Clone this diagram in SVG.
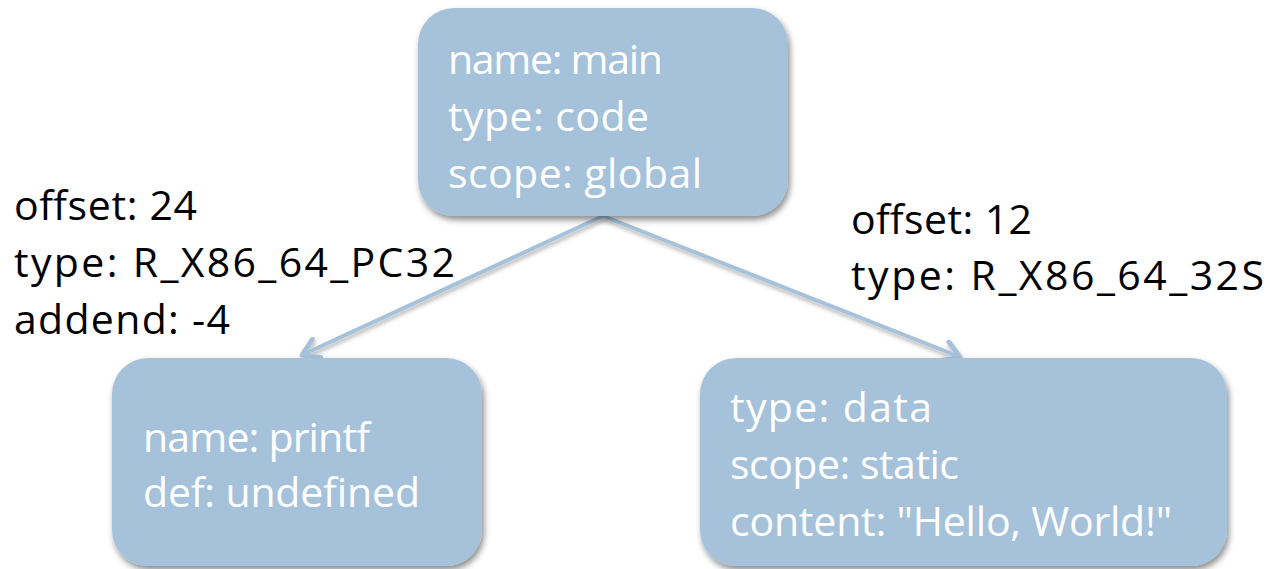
<svg xmlns="http://www.w3.org/2000/svg" width="1270" height="569" viewBox="0 0 1270 569">
<defs>
<filter id="sh" x="-10%" y="-10%" width="120%" height="130%">
<feDropShadow dx="2" dy="4" stdDeviation="3" flood-color="#000" flood-opacity="0.45"/>
</filter>
<filter id="lsh" x="-10%" y="-10%" width="120%" height="130%">
<feDropShadow dx="1" dy="3" stdDeviation="2" flood-color="#000" flood-opacity="0.3"/>
</filter>
<marker id="arr" viewBox="0 0 12 12" refX="10" refY="6" markerWidth="6" markerHeight="6" orient="auto" markerUnits="strokeWidth">
<path d="M2,1 L10,6 L2,11" fill="none" stroke="#A5C2DA" stroke-width="2.4" stroke-linecap="round" stroke-linejoin="round"/>
</marker>
<style>
.box{fill:#A5C2DA;filter:url(#sh)}
.t{font-family:"Open Sans","Lato","Liberation Sans",sans-serif;font-size:41px}
.w{fill:#FFFFFF}
.k{fill:#000000}
.c{stroke:#A5C2DA;stroke-width:4;fill:none;marker-end:url(#arr);filter:url(#lsh)}
</style>
</defs>
<g id="connectors">
<line class="c" x1="603" y1="216" x2="302" y2="355"/>
<line class="c" x1="603" y1="216" x2="960" y2="357"/>
</g>
<g id="node-main">
<rect class="box" x="418" y="8" width="370" height="208" rx="36"/>
<text class="t w" x="448" y="74" textLength="215" lengthAdjust="spacing">name: main</text>
<text class="t w" x="448" y="131" textLength="201" lengthAdjust="spacing">type: code</text>
<text class="t w" x="448" y="188" textLength="254" lengthAdjust="spacing">scope: global</text>
</g>
<g id="node-printf">
<rect class="box" x="112" y="358" width="370" height="208" rx="36"/>
<text class="t w" x="143" y="452" textLength="227" lengthAdjust="spacing">name: printf</text>
<text class="t w" x="143" y="507" textLength="277" lengthAdjust="spacing">def: undefined</text>
</g>
<g id="node-data">
<rect class="box" x="700" y="358" width="527" height="208" rx="36"/>
<text class="t w" x="730" y="422" textLength="202" lengthAdjust="spacing">type: data</text>
<text class="t w" x="730" y="479" textLength="229" lengthAdjust="spacing">scope: static</text>
<text class="t w" x="730" y="536" textLength="442" lengthAdjust="spacing">content: "Hello, World!"</text>
</g>
<g id="label-left">
<text class="t k" x="14" y="220" textLength="183" lengthAdjust="spacing">offset: 24</text>
<text class="t k" x="14" y="277" textLength="441" lengthAdjust="spacing">type: R_X86_64_PC32</text>
<text class="t k" x="14" y="334" textLength="216" lengthAdjust="spacing">addend: -4</text>
</g>
<g id="label-right">
<text class="t k" x="851" y="234" textLength="181" lengthAdjust="spacing">offset: 12</text>
<text class="t k" x="851" y="290" textLength="413" lengthAdjust="spacing">type: R_X86_64_32S</text>
</g>
</svg>
